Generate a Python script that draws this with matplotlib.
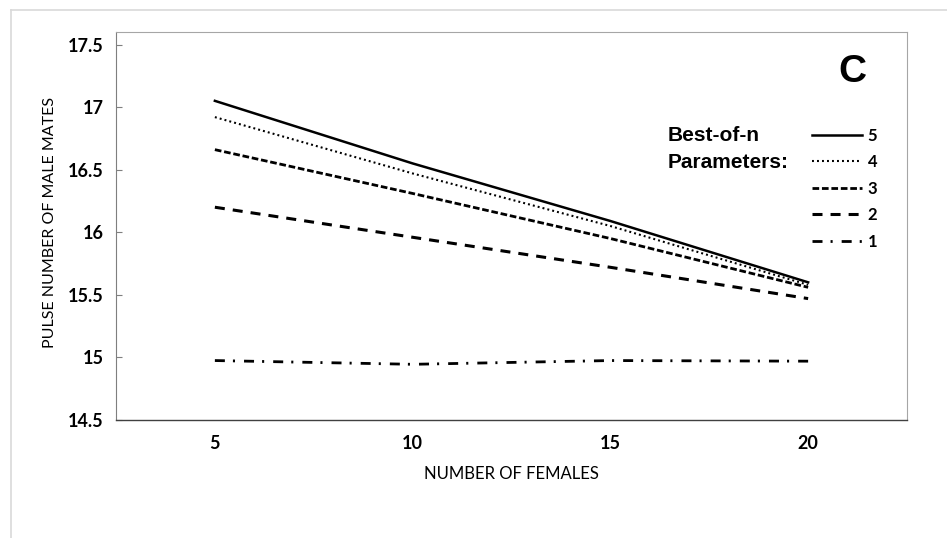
import matplotlib
matplotlib.use("Agg")
import matplotlib.pyplot as plt
from matplotlib.lines import Line2D

# ── datos ──────────────────────────────────────────────────────
females = ["5", "10", "15", "20"]
best_n = ["5", "4", "3", "2", "1"]
y_n5 = [17.05, 16.55, 16.09, 15.60]
y_n4 = [16.92, 16.47, 16.05, 15.58]
y_n3 = [16.66, 16.31, 15.95, 15.56]
y_n2 = [16.20, 15.96, 15.72, 15.47]
y_n1 = [14.975, 14.945, 14.975, 14.97]
y_ticks = [14.5, 15, 15.5, 16, 16.5, 17, 17.5]
y_ticklabels = ["14.5", "15", "15.5", "16", "16.5", "17", "17.5"]

plt.rcParams["lines.scale_dashes"] = False
CAL = "Lato"
ARIAL = "Liberation Sans"

fig = plt.figure(figsize=(9.47, 5.38), dpi=100)
fig.patch.set_facecolor("white")

# borde exterior gris claro (área del gráfico)
fig.add_artist(Line2D([11/947, 11/947], [0, 1 - 10/538], transform=fig.transFigure,
                      color="#d9d9d9", lw=1.2))
fig.add_artist(Line2D([11/947, 1], [1 - 10/538, 1 - 10/538], transform=fig.transFigure,
                      color="#d9d9d9", lw=1.2))

ax = fig.add_axes([116/947, 1 - 420/538, 791/947, 388/538])

styles = [
    dict(lw=1.8, ls="-"),
    dict(lw=1.5, ls=(0, (1.4, 2.2))),
    dict(lw=2.0, ls=(0, (4.8, 2.0))),
    dict(lw=2.2, ls=(0, (7.2, 5.8))),
    dict(lw=2.0, ls=(0, (7.2, 5.8, 1.5, 6.5))),
]
series = [y_n5, y_n4, y_n3, y_n2, y_n1]
handles = []
for vals, lab, st in zip(series, best_n, styles):
    h, = ax.plot(females, vals, color="black", label=lab, **st)
    handles.append(h)

ax.set_xlim(-0.5, 3.5)
ax.set_ylim(14.5, 17.6)
ax.set_yticks(y_ticks)
ax.set_yticklabels(y_ticklabels)

for s in ["top", "right"]:
    ax.spines[s].set_color("#a6a6a6")
    ax.spines[s].set_linewidth(0.8)
ax.spines["left"].set_color("#7f7f7f")
ax.spines["left"].set_linewidth(0.8)
ax.spines["bottom"].set_color("#404040")
ax.spines["bottom"].set_linewidth(1.0)

ax.tick_params(axis="y", direction="in", length=4, width=0.8, color="#7f7f7f", pad=9)
ax.tick_params(axis="x", length=0, pad=11)
for t in ax.get_yticklabels() + ax.get_xticklabels():
    t.set_fontfamily(CAL)
    t.set_fontweight("bold")
    t.set_fontsize(13)

fig.text(50/947, 1 - 222/538, "PULSE NUMBER OF MALE MATES", rotation=90,
         ha="center", va="center", fontsize=11.5, family=CAL)
fig.text(511/947, 1 - 474/538, "NUMBER OF FEMALES",
         ha="center", va="center", fontsize=12, family=CAL)

fig.text(852/947, 1 - 72/538, "C", ha="center", va="center",
         fontsize=28, fontweight="bold", family=ARIAL)
fig.text(668/947, 1 - 136/538, "Best-of-n", ha="left", va="center",
         fontsize=15, fontweight="bold", family=ARIAL)
fig.text(668/947, 1 - 162/538, "Parameters:", ha="left", va="center",
         fontsize=15, fontweight="bold", family=ARIAL)

leg = ax.legend(handles=handles, loc="upper left",
                bbox_to_anchor=((813 - 116) / 791 - 0.010, 1 - (121 - 32) / 388),
                frameon=False, handlelength=3.0, handletextpad=0.35,
                labelspacing=0.63, borderaxespad=0,
                prop=dict(family=CAL, weight="bold", size=12))

fig.savefig("out.png", dpi=100)
